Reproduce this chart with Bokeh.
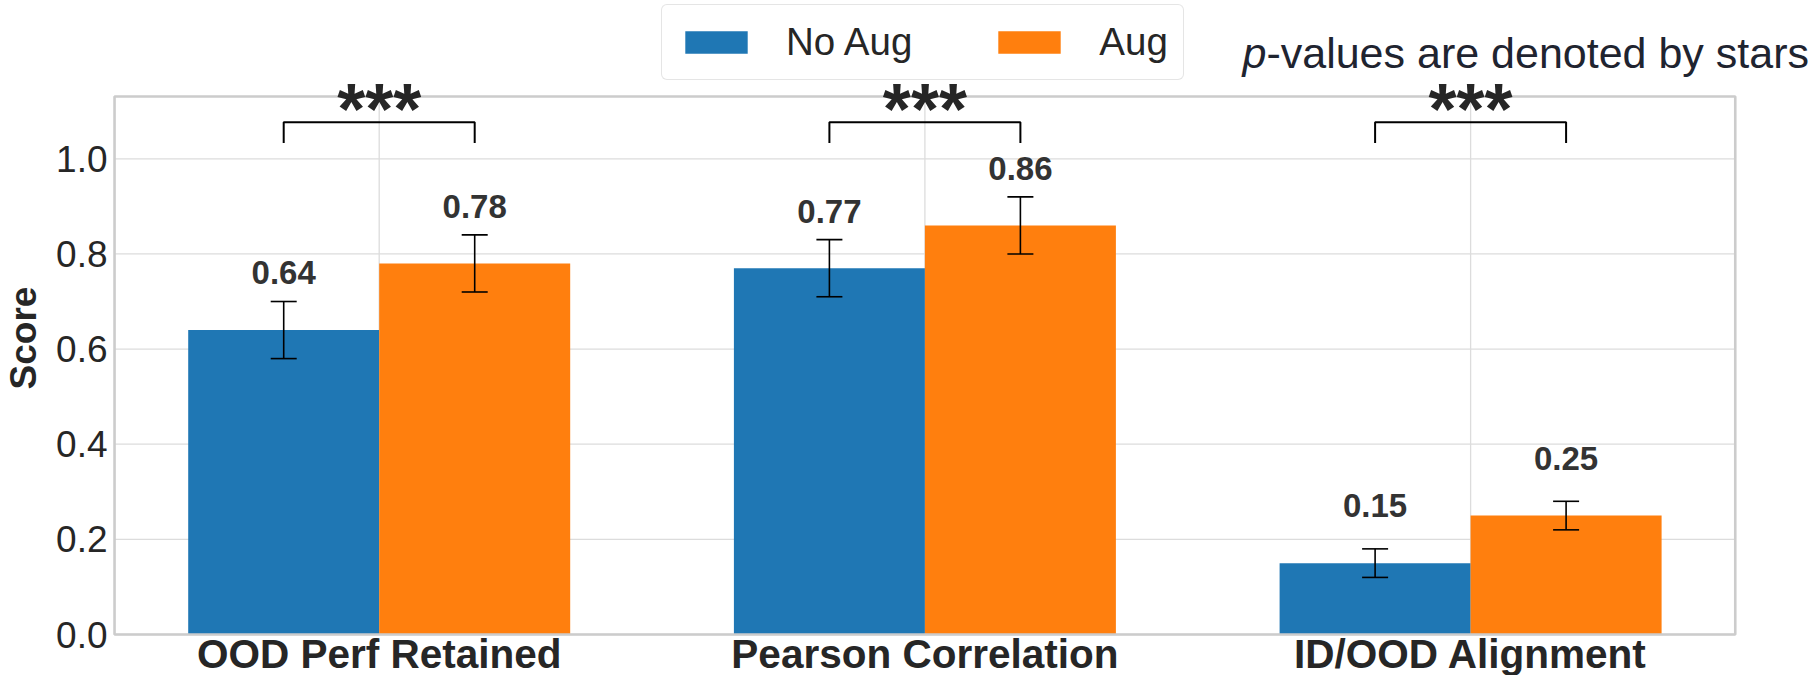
from bokeh.plotting import figure
from bokeh.models import (ColumnDataSource, Whisker, TeeHead, LabelSet, Label,
                          Legend, LegendItem, FixedTicker, PrintfTickFormatter)
from bokeh.core.properties import value
from bokeh.embed import file_html
from bokeh.resources import INLINE

# ---------------- data ----------------
categories = ["OOD Perf Retained", "Pearson Correlation", "ID/OOD Alignment"]
series_names = ["No Aug", "Aug"]
no_aug = [0.64, 0.77, 0.15]
no_aug_err = [0.06, 0.06, 0.03]
aug = [0.78, 0.86, 0.25]
aug_err = [0.06, 0.06, 0.03]
significance = ["***", "***", "***"]
y_ticks = [0.0, 0.2, 0.4, 0.6, 0.8, 1.0]

# ---------------- style / layout ----------------
BLUE = "#1f77b4"
ORANGE = "#ff7f0e"
TXT = "#262626"
GRID = "#dcdcdc"
FONT = "Liberation Sans"
BAR_W = 0.35
LABEL_PAD = 0.096
BR_LOW, BR_HIGH = 1.033, 1.077
STAR_Y = 1.052
BOX_X = (-0.485, 2.485)      # visible axes box (data units)
BOX_Y = (0.0, 1.131)

W, H = 1818, 675
FRAME_L = 112                 # frame spans the rest of the canvas so texts are not clipped
X0_PX, X_PX_PER = 378.7, 545.7
Y0_PX, Y_PX_PER = 634.0, 475.7
x_range = ((FRAME_L - X0_PX) / X_PX_PER, (W - X0_PX) / X_PX_PER)
y_range = ((Y0_PX - H) / Y_PX_PER, Y0_PX / Y_PX_PER)

idx = list(range(len(categories)))

p = figure(width=W, height=H, x_range=x_range, y_range=y_range,
           output_backend="svg", toolbar_location=None, x_axis_location=None,
           min_border_left=FRAME_L, min_border_right=0, min_border_top=0, min_border_bottom=0)
p.background_fill_color = "white"
p.border_fill_color = "white"
p.outline_line_color = None
p.grid.grid_line_color = None

# grid lines (restricted to the visible box)
p.segment(x0=[BOX_X[0]] * len(y_ticks), x1=[BOX_X[1]] * len(y_ticks), y0=y_ticks, y1=y_ticks,
          line_color=GRID, line_width=1.3)
p.segment(x0=idx, x1=idx, y0=[BOX_Y[0]] * len(idx), y1=[BOX_Y[1]] * len(idx),
          line_color=GRID, line_width=1.3)


def make_source(vals, errs, offset):
    return ColumnDataSource(dict(
        x=[i + offset for i in idx],
        top=vals,
        upper=[v + e for v, e in zip(vals, errs)],
        lower=[v - e for v, e in zip(vals, errs)],
        label=[f"{v:.2f}" for v in vals],
        label_y=[v + LABEL_PAD for v in vals],
    ))


src_no = make_source(no_aug, no_aug_err, -BAR_W / 2)
src_aug = make_source(aug, aug_err, BAR_W / 2)

r_no = p.vbar(x="x", top="top", width=BAR_W, source=src_no, fill_color=BLUE, line_color=None)
r_aug = p.vbar(x="x", top="top", width=BAR_W, source=src_aug, fill_color=ORANGE, line_color=None)

# axes box
p.quad(left=[BOX_X[0]], right=[BOX_X[1]], bottom=[BOX_Y[0]], top=[BOX_Y[1]],
       fill_color=None, line_color="#cccccc", line_width=2.6)

for src in (src_no, src_aug):
    w = Whisker(source=src, base="x", upper="upper", lower="lower", level="annotation",
                line_color="black", line_width=1.6,
                upper_head=TeeHead(size=26, line_color="black", line_width=1.6),
                lower_head=TeeHead(size=26, line_color="black", line_width=1.6))
    p.add_layout(w)
    p.add_layout(LabelSet(x="x", y="label_y", text="label", source=src,
                          text_align="center", text_baseline="alphabetic",
                          text_font=value(FONT), text_font_size="33px",
                          text_font_style="bold", text_color="#333333"))

# significance brackets
br_xs = [[i - BAR_W / 2, i - BAR_W / 2, i + BAR_W / 2, i + BAR_W / 2] for i in idx]
br_ys = [[BR_LOW, BR_HIGH, BR_HIGH, BR_LOW] for _ in idx]
p.multi_line(br_xs, br_ys, line_color="black", line_width=2)

star_src = ColumnDataSource(dict(x=idx, y=[STAR_Y] * len(idx), text=significance))
p.add_layout(LabelSet(x="x", y="y", text="text", source=star_src,
                      text_align="center", text_baseline="alphabetic",
                      text_font=value(FONT), text_font_size="72px",
                      text_font_style="bold", text_color="#262626"))

# category labels
cat_src = ColumnDataSource(dict(x=idx, y=[0] * len(idx), text=categories))
p.add_layout(LabelSet(x="x", y="y", text="text", source=cat_src, y_offset=-33,
                      text_align="center", text_baseline="alphabetic",
                      text_font=value(FONT), text_font_size="40.5px",
                      text_font_style="bold", text_color=TXT))

# y axis
p.yaxis.ticker = FixedTicker(ticks=y_ticks)
p.yaxis.bounds = BOX_Y
p.yaxis.formatter = PrintfTickFormatter(format="%.1f")
p.yaxis.major_label_text_font = FONT
p.yaxis.major_label_text_font_size = "37px"
p.yaxis.major_label_text_color = TXT
p.yaxis.major_tick_in = 0
p.yaxis.major_tick_out = 0
p.yaxis.minor_tick_in = 0
p.yaxis.minor_tick_out = 0
p.yaxis.major_tick_line_color = None
p.yaxis.minor_tick_line_color = None
p.yaxis.axis_line_color = None
p.yaxis.major_label_standoff = 5
p.yaxis.axis_label = "Score"
p.yaxis.axis_label_text_font = FONT
p.yaxis.axis_label_text_font_size = "37px"
p.yaxis.axis_label_text_font_style = "bold"
p.yaxis.axis_label_text_color = TXT
p.yaxis.axis_label_standoff = 9

# legend
legend = Legend(items=[LegendItem(label=series_names[0], renderers=[r_no]),
                       LegendItem(label=series_names[1], renderers=[r_aug])],
                orientation="horizontal", location=(661 - FRAME_L, H - 80), margin=0,
                glyph_width=78, glyph_height=28, label_standoff=31, spacing=78,
                padding=15, label_text_font=FONT, label_text_font_size="38.5px",
                label_text_color=TXT, border_line_color="#cccccc",
                border_line_width=1.5, background_fill_color="white",
                background_fill_alpha=1.0)
if "border_radius" in Legend.properties():
    legend.border_radius = 6
p.add_layout(legend, "center")

# note
NOTE_X, NOTE_BASE, NOTE_SIZE = 1242 - FRAME_L, H - 52, 43
p.add_layout(Label(x=NOTE_X, y=NOTE_BASE, x_units="screen", y_units="screen", text="p",
                   text_font=FONT, text_font_size=f"{NOTE_SIZE}px", text_font_style="italic",
                   text_color="#1f2430", text_baseline="alphabetic"))
p.add_layout(Label(x=NOTE_X + 0.556 * NOTE_SIZE, y=NOTE_BASE, x_units="screen", y_units="screen",
                   text="-values are denoted by stars",
                   text_font=FONT, text_font_size=f"{NOTE_SIZE}px",
                   text_color="#1f2430", text_baseline="alphabetic"))

open("out.html", "w").write(file_html(p, INLINE))
